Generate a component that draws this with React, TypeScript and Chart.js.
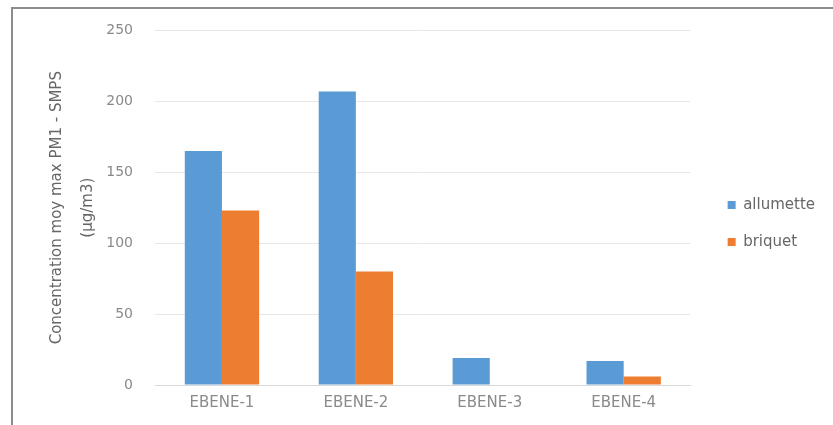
import React, { useEffect, useRef } from "react";
import { Chart, registerables } from "chart.js";

Chart.register(...registerables);

const categories = ["EBENE-1", "EBENE-2", "EBENE-3", "EBENE-4"];
const allumette = [165, 207, 19, 17];
const briquet = [123, 80, 0, 6];
const seriesNames = ["allumette", "briquet"];
const yTitle = ["Concentration moy max PM1 - SMPS", "(µg/m3)"];

export default function App() {
  const ref = useRef<HTMLCanvasElement | null>(null);

  useEffect(() => {
    if (!ref.current) return;
    const chart = new Chart(ref.current, {
      type: "bar",
      data: {
        labels: categories,
        datasets: [
          {
            label: seriesNames[0],
            data: allumette,
            backgroundColor: "#5b9bd5",
            categoryPercentage: 0.555,
            barPercentage: 1,
          },
          {
            label: seriesNames[1],
            data: briquet,
            backgroundColor: "#ed7d31",
            categoryPercentage: 0.555,
            barPercentage: 1,
          },
        ],
      },
      options: {
        animation: false,
        responsive: false,
        maintainAspectRatio: false,
        layout: { padding: { left: 42, top: 30, right: 8, bottom: 8 } },
        plugins: {
          tooltip: { enabled: false },
          legend: {
            position: "right",
            align: "center",
            labels: {
              boxWidth: 8,
              boxHeight: 8,
              padding: 22,
              color: "#666666",
              font: { family: "'DejaVu Sans'", size: 15 },
            },
          },
        },
        scales: {
          x: {
            grid: { display: false, drawTicks: false },
            border: { display: true, color: "#d9d9d9", width: 1 },
            ticks: {
              color: "#8a8a8a",
              font: { family: "'DejaVu Sans'", size: 15 },
              padding: 9,
            },
            afterFit: (s: any) => {
              s.height = 32;
            },
          },
          y: {
            min: 0,
            max: 250,
            ticks: {
              stepSize: 50,
              color: "#8a8a8a",
              font: { family: "'DejaVu Sans'", size: 14 },
              padding: 22,
            },
            grid: { color: "#e8e8e8", drawTicks: false },
            border: { display: false },
            title: {
              display: true,
              text: yTitle,
              color: "#666666",
              font: { family: "'DejaVu Sans'", size: 15, lineHeight: 2.05 },
              padding: { top: 0, bottom: 0 },
            },
            afterFit: (s: any) => {
              s.width = 113;
            },
          },
          gap: {
            type: "linear",
            position: "right",
            display: true,
            grid: { display: false, drawTicks: false },
            border: { display: false },
            ticks: { display: false },
            afterFit: (s: any) => {
              s.width = 15;
            },
          },
        },
      },
    });
    return () => chart.destroy();
  }, []);

  return (
    <div style={{ position: "fixed", left: 0, top: 0, width: 833, height: 425, background: "#fff", overflow: "hidden" }}>
      <div
        style={{
          position: "absolute",
          left: 11,
          top: 7,
          width: 840,
          height: 440,
          borderTop: "2px solid #8c8c8c",
          borderLeft: "2px solid #8c8c8c",
        }}
      />
      <canvas ref={ref} width={833} height={425} style={{ position: "absolute", left: 0, top: 0 }} />
    </div>
  );
}
